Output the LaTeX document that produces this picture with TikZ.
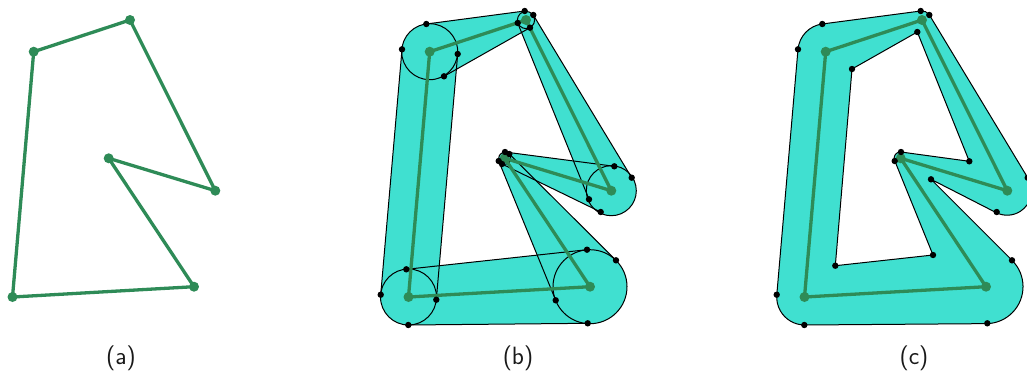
\documentclass[tikz,border=0pt]{standalone}
\definecolor{hullfill}{HTML}{40E0D0}
\definecolor{hullline}{HTML}{2E8B57}
\tikzset{
  polyline/.style={draw=hullline, line width=3.3pt, line join=round},
  polydot/.style={fill=hullline},
  edgeline/.style={draw=black, line width=1pt},
  tangdot/.style={fill=black},
  caption/.style={font=\fontsize{25}{29}\selectfont\sffamily, text=black!90},
}
% the six vertices, the same in every panel
\newcommand{\vertices}{
  \coordinate (p1) at (33.7,51.7);
  \coordinate (p2) at (130,20);
  \coordinate (p3) at (215.3,190.7);
  \coordinate (p4) at (108.7,158.3);
  \coordinate (p5) at (194,286.7);
  \coordinate (p6) at (12.5,297);
}
\newcommand{\tangents}{
  \coordinate (q1a) at (30.3,24);
  \coordinate (q1b) at (48,76.3);
  \coordinate (q1c) at (6,49.3);
  \coordinate (q1d) at (61.7,54);
  \coordinate (q2a) at (128.7,11);
  \coordinate (q2b) at (137.3,15);
  \coordinate (q2c) at (121.7,23);
  \coordinate (q2d) at (134,27.7);
  \coordinate (q3a) at (235.7,177.7);
  \coordinate (q3b) at (218.3,166.3);
  \coordinate (q3c) at (193,199.3);
  \coordinate (q3d) at (204.7,212);
  \coordinate (q4a) at (109,152);
  \coordinate (q4b) at (113.3,154);
  \coordinate (q4c) at (102.7,161);
  \coordinate (q4d) at (106,164);
  \coordinate (q5a) at (220,260.3);
  \coordinate (q5b) at (191,249.7);
  \coordinate (q5c) at (159.7,300.3);
  \coordinate (q5d) at (191.7,323.3);
  \coordinate (q6a) at (10.3,269.3);
  \coordinate (q6b) at (40.3,299.7);
  \coordinate (q6c) at (-15.3,294.7);
  \coordinate (q6d) at (12.3,325);
}
\newcommand{\polygon}{
  \draw[polyline] (p1) -- (p2) -- (p3) -- (p4) -- (p5) -- (p6) -- cycle;
  \foreach \pt in {p1,p2,p3,p4,p5,p6}
    \fill[polydot] (\pt) circle[radius=5];
}
\begin{document}
\begin{tikzpicture}[x=1pt, y=-1pt]
\useasboundingbox (0,0) rectangle (1027,373);

% (a)
\vertices
\polygon
\node[caption] (capa) at (121,358) {(a)};

% (b)
\begin{scope}[xshift=396pt]
  \vertices
  \tangents
  \foreach \pt/\rad in {p1/28,p2/8.6,p3/25,p4/6,p5/37,p6/28}
    \fill[hullfill] (\pt) circle[radius=\rad];
  \foreach \ta/\tb/\tc/\td in {q1a/q2a/q2d/q1b,q2b/q3a/q3c/q2c,q4a/q3b/q3d/q4d,
      q4b/q5a/q5c/q4c,q5b/q5d/q6d/q6a,q6c/q1c/q1d/q6b} {
    \fill[hullfill] (\ta) -- (\tb) -- (\tc) -- (\td) -- cycle;
  }
  \foreach \ta/\tb/\tc/\td in {q1a/q2a/q2d/q1b,q2b/q3a/q3c/q2c,q4a/q3b/q3d/q4d,
      q4b/q5a/q5c/q4c,q5b/q6a/q6d/q5d,q6c/q1c/q1d/q6b} {
    \draw[edgeline] (\ta) -- (\tb) (\tc) -- (\td);
  }
  \foreach \pt/\rad in {p1/28,p2/8.6,p3/25,p4/6,p5/37,p6/28}
    \draw[edgeline] (\pt) circle[radius=\rad];
  \polygon
  \foreach \pt in {q1a,q1b,q1c,q1d,q2a,q2b,q2c,q2d,q3a,q3b,q3c,q3d,
      q4a,q4b,q4c,q4d,q5a,q5b,q5c,q5d,q6a,q6b,q6c,q6d}
    \fill[tangdot] (\pt) circle[radius=3.2];
  \node[caption] (capb) at (122,358) {(b)};
\end{scope}

% (c)
\begin{scope}[xshift=792pt]
  \vertices
  \tangents
  \coordinate (r1) at (60,69);
  \coordinate (r2) at (125.3,32);
  \coordinate (r3) at (177.3,161.3);
  \coordinate (r4) at (139,179.3);
  \coordinate (r5) at (141,255);
  \coordinate (r6) at (43.3,265.7);
  \coordinate (r7) at (195.3,323.3);
  \draw[edgeline, fill=hullfill, even odd rule]
    (q1c) arc[start angle=185, end angle=263, radius=28]
    -- (q2a) arc[start angle=-98, end angle=-34, radius=8.9]
    -- (q3a) arc[start angle=-32.5, end angle=116.5, radius=24.4]
    -- (r4) -- (q5a) arc[start angle=-45.4, end angle=88, radius=37]
    -- (q6d) arc[start angle=90.8, end angle=184.7, radius=28]
    -- cycle
    (r1) -- (r2) -- (r3) -- (q4a) arc[start angle=276, end angle=154, radius=6.2]
    -- (r5) -- (r6) -- cycle;
  \polygon
  \foreach \pt in {q1a,q1c,q2a,q2b,q3a,q3d,q4a,q4c,q5a,r7,q6c,q6d,r1,r2,r3,r4,r5,r6}
    \fill[tangdot] (\pt) circle[radius=3.2];
  \node[caption] (capc) at (122,358) {(c)};
\end{scope}
\end{tikzpicture}
\end{document}
